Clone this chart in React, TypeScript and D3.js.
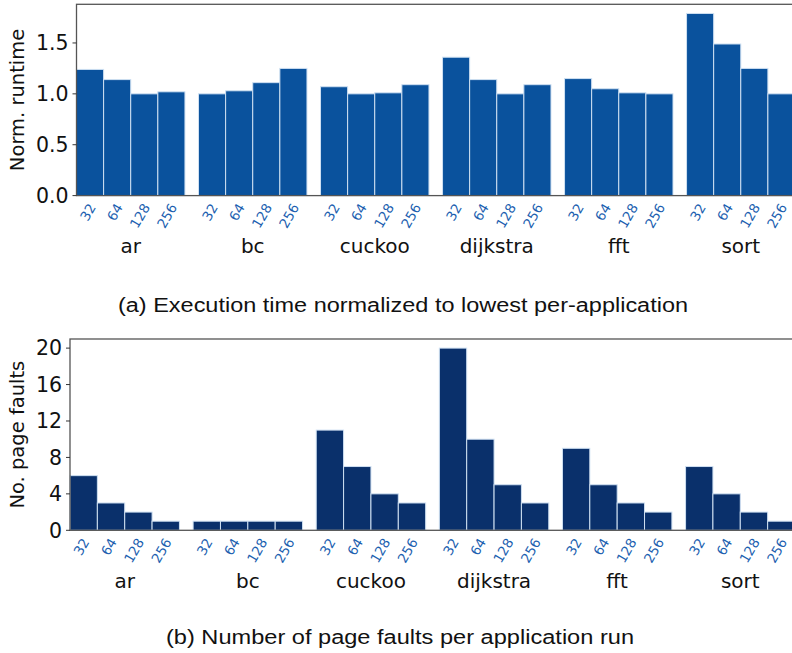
import React from "react";
import * as d3 from "d3";

const apps = ["ar", "bc", "cuckoo", "dijkstra", "fft", "sort"];
const sizes = ["32", "64", "128", "256"];
const runtime = [
  [1.24, 1.14, 1.0, 1.02],
  [1.0, 1.03, 1.11, 1.25],
  [1.07, 1.0, 1.01, 1.09],
  [1.36, 1.14, 1.0, 1.09],
  [1.15, 1.05, 1.01, 1.0],
  [1.79, 1.49, 1.25, 1.0],
];
const faults = [
  [6, 3, 2, 1],
  [1, 1, 1, 1],
  [11, 7, 4, 3],
  [20, 10, 5, 3],
  [9, 5, 3, 2],
  [7, 4, 2, 1],
];
const runtimeTicks = [0, 0.5, 1.0, 1.5];
const faultTicks = [0, 4, 8, 12, 16, 20];

const FONT = "DejaVu Sans";
const GROUP = 4.5;

type PanelProps = {
  data: number[][];
  ticks: number[];
  tickFmt: (v: number) => string;
  yMax: number;
  x0: number;
  yTop: number;
  yBottom: number;
  color: string;
  yLabel: string;
  caption: string;
  captionX: number;
  captionY: number;
  captionW: number;
};

function Panel(p: PanelProps) {
  const x = d3.scaleLinear().domain([0, 5 * GROUP + 4]).range([p.x0, 795]);
  const y = d3.scaleLinear().domain([0, p.yMax]).range([p.yBottom, p.yTop]);
  const labelY = (p.yTop + p.yBottom) / 2;
  return (
    <g>
      {p.data.map((vals, g) =>
        vals.map((v, i) => {
          const s = g * GROUP + i;
          return (
            <rect
              key={`b${g}-${i}`}
              x={x(s)}
              y={y(v)}
              width={x(s + 1) - x(s)}
              height={y(0) - y(v)}
              fill={p.color}
              stroke="#cfe0f2"
              strokeWidth={1}
            />
          );
        })
      )}
      <rect
        x={p.x0}
        y={p.yTop}
        width={800 - p.x0}
        height={p.yBottom - p.yTop}
        fill="none"
        stroke="#555"
        strokeWidth={1.3}
      />
      {p.ticks.map((t) => (
        <g key={`t${t}`}>
          <line x1={p.x0 - 4} x2={p.x0} y1={y(t)} y2={y(t)} stroke="#333" strokeWidth={1} />
          <text
            x={p.x0 - 8}
            y={y(t)}
            dy="0.36em"
            textAnchor="end"
            fontFamily={FONT}
            fontSize={20.5}
            fill="#111"
          >
            {p.tickFmt(t)}
          </text>
        </g>
      ))}
      <text
        transform={`translate(17,${labelY}) rotate(-90)`}
        dy="0.36em"
        textAnchor="middle"
        fontFamily={FONT}
        fontSize={19.5}
        fill="#111"
      >
        {p.yLabel}
      </text>
      {apps.map((a, g) => (
        <g key={`g${a}`}>
          {sizes.map((s, i) => {
            const cx = x(g * GROUP + i + 0.5);
            return (
              <text
                key={`s${s}`}
                transform={`translate(${cx + 2},${p.yBottom + 9}) rotate(-60)`}
                dy="0.36em"
                textAnchor="end"
                fontFamily={FONT}
                fontSize={13.5}
                fill="#1c5fb0"
              >
                {s}
              </text>
            );
          })}
          <text
            x={x(g * GROUP + 2)}
            y={p.yBottom + 57.5}
            textAnchor="middle"
            fontFamily={FONT}
            fontSize={20}
            fill="#111"
          >
            {a}
          </text>
        </g>
      ))}
      <text
        x={p.captionX}
        y={p.captionY}
        textAnchor="middle"
        fontFamily="Liberation Sans"
        fontSize={20}
        textLength={p.captionW}
        lengthAdjust="spacingAndGlyphs"
        fill="#111"
      >
        {p.caption}
      </text>
    </g>
  );
}

export default function App() {
  return (
    <svg
      width={792}
      height={653}
      style={{ position: "absolute", left: 0, top: 0, background: "white" }}
    >
      <Panel
        data={runtime}
        ticks={runtimeTicks}
        tickFmt={(v) => v.toFixed(1)}
        yMax={1.88}
        x0={76.5}
        yTop={4.3}
        yBottom={195.6}
        color="#0a529d"
        yLabel="Norm. runtime"
        caption="(a) Execution time normalized to lowest per-application"
        captionX={403}
        captionY={312}
        captionW={570}
      />
      <Panel
        data={faults}
        ticks={faultTicks}
        tickFmt={(v) => String(v)}
        yMax={21}
        x0={70}
        yTop={339}
        yBottom={530.3}
        color="#0a306b"
        yLabel="No. page faults"
        caption="(b) Number of page faults per application run"
        captionX={400}
        captionY={644}
        captionW={468}
      />
    </svg>
  );
}
